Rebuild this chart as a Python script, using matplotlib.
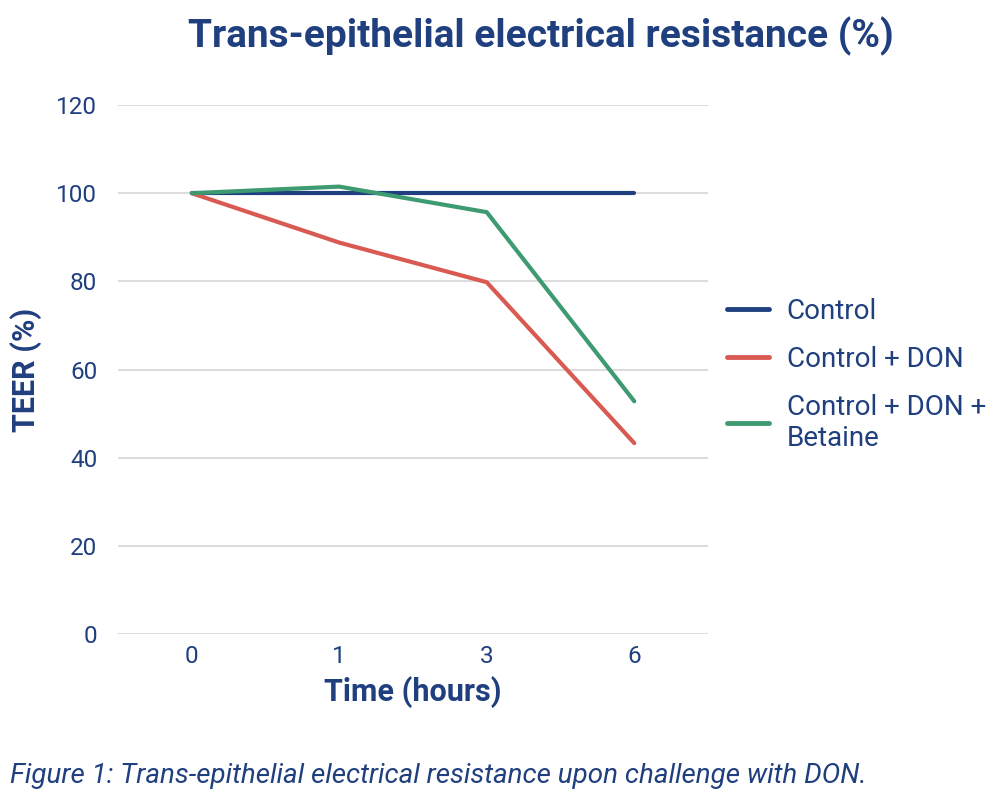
import matplotlib.pyplot as plt
import numpy as np

# Dane: TEER (%) w czasie
time_labels = ['0', '1', '3', '6']
control = [100, 100, 100, 100]
control_don = [100, 88.8, 79.8, 43.3]
control_don_betaine = [100, 101.5, 95.7, 52.8]

navy = '#1f3f7f'
red = '#d85a52'
green = '#3e9a70'
grid_col = '#dcdcdc'

plt.rcParams['font.family'] = ['Roboto', 'DejaVu Sans']

fig = plt.figure(figsize=(10, 8.02), dpi=100)
ax = fig.add_axes([0.118, 0.2095, 0.59, 0.6595])

x = np.arange(len(time_labels))
ax.plot(x, control, color=navy, lw=3, solid_capstyle='round', label='Control')
ax.plot(x, control_don, color=red, lw=3, solid_capstyle='round', label='Control + DON')
ax.plot(x, control_don_betaine, color=green, lw=3, solid_capstyle='round',
        label='Control + DON +\nBetaine')

ax.set_xlim(-0.5, 3.5)
ax.set_ylim(0, 120)
ax.set_yticks(range(0, 121, 20))
ax.set_xticks(x)
ax.set_xticklabels(time_labels)
ax.grid(axis='y', color=grid_col, lw=1.5)
ax.set_axisbelow(True)
for s in ax.spines.values():
    s.set_visible(False)
ax.tick_params(length=0, labelsize=17.5, labelcolor=navy, pad=8)
ax.tick_params(axis='y', pad=15)

ax.set_xlabel('Time (hours)', fontsize=22, fontweight='bold', color=navy, labelpad=6)
ax.set_ylabel('TEER (%)', fontsize=22, fontweight='bold', color=navy, labelpad=10)

fig.text(0.541, 0.955, 'Trans-epithelial electrical resistance (%)', ha='center', va='center',
         fontsize=28, fontweight='bold', color=navy)

leg = ax.legend(loc='center left', bbox_to_anchor=(0.99, 0.49), frameon=False, fontsize=20,
                handlelength=1.5, handletextpad=0.65, labelspacing=0.75, labelcolor=navy)
for line in leg.get_lines():
    line.set_linewidth(3.5)

fig.text(0.01, 0.033, 'Figure 1: Trans-epithelial electrical resistance upon challenge with DON.',
         ha='left', va='center', fontsize=20, style='italic', color=navy)

fig.savefig('out.png', dpi=100)
